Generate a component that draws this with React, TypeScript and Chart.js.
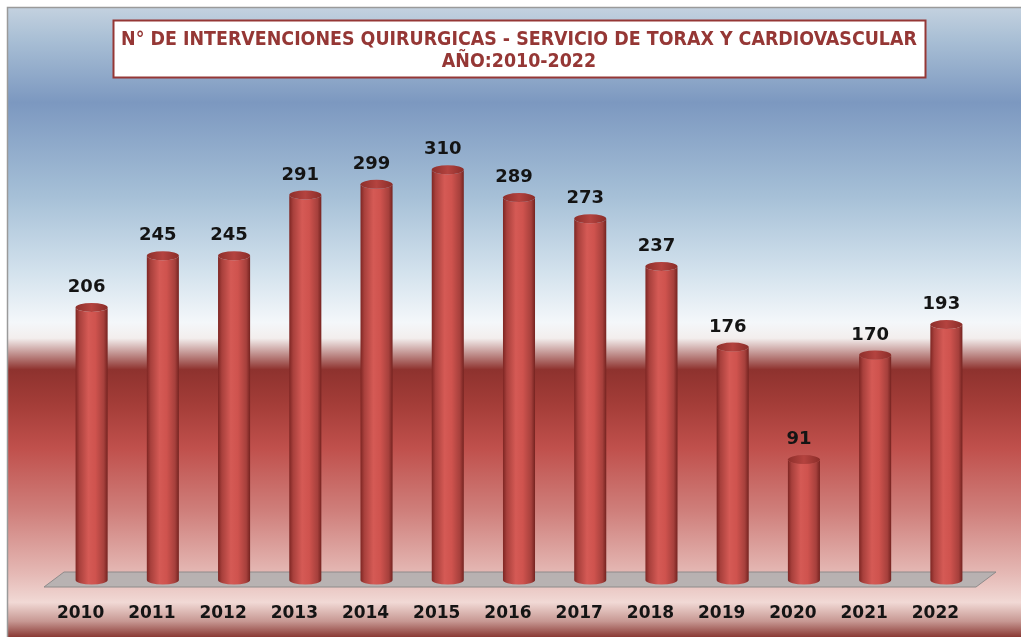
import React, { useEffect, useRef } from 'react';
import { Chart, registerables } from 'chart.js';

Chart.register(...registerables);

const years = ['2010', '2011', '2012', '2013', '2014', '2015', '2016', '2017', '2018', '2019', '2020', '2021', '2022'];
const interventions = [206, 245, 245, 291, 299, 310, 289, 273, 237, 176, 91, 170, 193];
const titleLines = [
  'N° DE INTERVENCIONES QUIRURGICAS - SERVICIO DE TORAX Y CARDIOVASCULAR',
  'AÑO:2010-2022',
];

const TITLE_FONT = "'DejaVu Sans Condensed', 'Liberation Sans Narrow', sans-serif";
const TITLE_SIZE = 19.4;
const LABEL_FONT = "'DejaVu Sans', sans-serif";

const backgroundPlugin = {
  id: 'bgPlugin',
  beforeDraw(chart: any) {
    const { ctx, width, height } = chart;
    ctx.save();
    ctx.fillStyle = '#ffffff';
    ctx.fillRect(0, 0, width, height);
    const g = ctx.createLinearGradient(0, 8, 0, height);
    g.addColorStop(0.0, '#c3d1df');
    g.addColorStop(0.05, '#a9bfd5');
    g.addColorStop(0.15, '#7c98c0');
    g.addColorStop(0.3, '#a6c0d7');
    g.addColorStop(0.42, '#d3e2ed');
    g.addColorStop(0.5, '#f4f7fa');
    g.addColorStop(0.525, '#f3eeed');
    g.addColorStop(0.575, '#8e322e');
    g.addColorStop(0.63, '#a43d38');
    g.addColorStop(0.7, '#c0504c');
    g.addColorStop(0.8, '#cf7f7b');
    g.addColorStop(0.9, '#e5b9b5');
    g.addColorStop(0.945, '#f1d9d5');
    g.addColorStop(0.975, '#c79893');
    g.addColorStop(1.0, '#8a3934');
    ctx.fillStyle = g;
    ctx.fillRect(8, 8, width - 8, height - 8);
    ctx.strokeStyle = '#9a9a9a';
    ctx.lineWidth = 1.5;
    ctx.beginPath();
    ctx.moveTo(7.5, height);
    ctx.lineTo(7.5, 7.5);
    ctx.lineTo(width, 7.5);
    ctx.stroke();

    // title frame
    const tb = chart.titleBlock;
    if (tb) {
      const cx = (tb.left + tb.right) / 2;
      ctx.font = `bold ${TITLE_SIZE}px ${TITLE_FONT}`;
      const tw = ctx.measureText(titleLines[0]).width;
      const left = Math.round(cx - tw / 2 - 8) + 0.5;
      const right = Math.round(cx + tw / 2 + 8) + 0.5;
      ctx.fillStyle = '#ffffff';
      ctx.fillRect(left, tb.top + 20.5, right - left, 57);
      ctx.strokeStyle = '#953735';
      ctx.lineWidth = 2;
      ctx.strokeRect(left, tb.top + 20.5, right - left, 57);
    }
    ctx.restore();
  },
  beforeDatasetsDraw(chart: any) {
    const { ctx, chartArea } = chart;
    const yb = chart.scales.y.getPixelForValue(0);
    ctx.save();
    ctx.beginPath();
    ctx.moveTo(chartArea.left + 8, yb - 8);
    ctx.lineTo(chartArea.right + 14, yb - 8);
    ctx.lineTo(chartArea.right - 6, yb + 7);
    ctx.lineTo(chartArea.left - 12, yb + 7);
    ctx.closePath();
    ctx.fillStyle = 'rgba(178, 176, 176, 0.9)';
    ctx.fill();
    ctx.strokeStyle = '#8e8a8a';
    ctx.lineWidth = 1;
    ctx.stroke();
    ctx.restore();
  },
  afterDatasetsDraw(chart: any) {
    const { ctx } = chart;
    const meta = chart.getDatasetMeta(0);
    ctx.save();
    meta.data.forEach((bar: any, i: number) => {
      const { x, y, base, width } = bar.getProps(['x', 'y', 'base', 'width'], true);
      const rx = width / 2;
      const ry = 4.5;
      const g = ctx.createLinearGradient(x - rx, 0, x + rx, 0);
      g.addColorStop(0, '#7e2623');
      g.addColorStop(0.12, '#a8403c');
      g.addColorStop(0.4, '#d55a55');
      g.addColorStop(0.62, '#cf534e');
      g.addColorStop(0.88, '#a6403c');
      g.addColorStop(1, '#752320');
      ctx.beginPath();
      ctx.moveTo(x - rx, y);
      ctx.lineTo(x - rx, base);
      ctx.ellipse(x, base, rx, ry, 0, Math.PI, 0, true);
      ctx.lineTo(x + rx, y);
      ctx.ellipse(x, y, rx, ry, 0, 0, Math.PI, false);
      ctx.closePath();
      ctx.fillStyle = g;
      ctx.fill();
      // top cap
      const tg = ctx.createLinearGradient(x - rx, 0, x + rx, 0);
      tg.addColorStop(0, '#8d2f2b');
      tg.addColorStop(0.5, '#b4433f');
      tg.addColorStop(1, '#8a2d29');
      ctx.beginPath();
      ctx.ellipse(x, y, rx, ry, 0, 0, Math.PI * 2);
      ctx.fillStyle = tg;
      ctx.fill();
      // value label
      ctx.font = `bold 18px ${LABEL_FONT}`;
      ctx.fillStyle = '#141414';
      ctx.textAlign = 'center';
      ctx.textBaseline = 'middle';
      ctx.fillText(String(interventions[i]), x - 5, y - 20);
    });
    ctx.restore();
  },
};

export default function App() {
  const ref = useRef<HTMLCanvasElement | null>(null);
  useEffect(() => {
    if (!ref.current) return;
    const chart = new Chart(ref.current, {
      type: 'bar',
      data: {
        labels: years,
        datasets: [
          {
            data: interventions,
            backgroundColor: 'rgba(0,0,0,0)',
            borderWidth: 0,
            barPercentage: 0.45,
            categoryPercentage: 1,
          },
        ],
      },
      options: {
        animation: false,
        responsive: false,
        layout: { padding: { left: 56, right: 39, top: 0, bottom: 0 } },
        plugins: {
          legend: { display: false },
          tooltip: { enabled: false },
          title: {
            display: true,
            text: titleLines,
            color: '#953735',
            font: { family: TITLE_FONT, size: TITLE_SIZE, weight: 'bold', lineHeight: 1.13 },
            padding: { top: 29, bottom: 44 },
          },
        },
        scales: {
          x: {
            grid: { display: false, drawTicks: false },
            border: { display: false },
            ticks: {
              color: '#141414',
              font: { family: LABEL_FONT, size: 17, weight: 'bold' },
              padding: 23,
              labelOffset: -11,
              maxRotation: 0,
              autoSkip: false,
            },
            afterFit(scale: any) {
              scale.height = 57;
            },
          },
          y: { display: false, min: 0, max: 350 },
        },
      },
      plugins: [backgroundPlugin],
    });
    return () => chart.destroy();
  }, []);
  return (
    <div style={{ position: 'fixed', left: 0, top: 0, width: 1021, height: 637 }}>
      <canvas ref={ref} width={1021} height={637} />
    </div>
  );
}
